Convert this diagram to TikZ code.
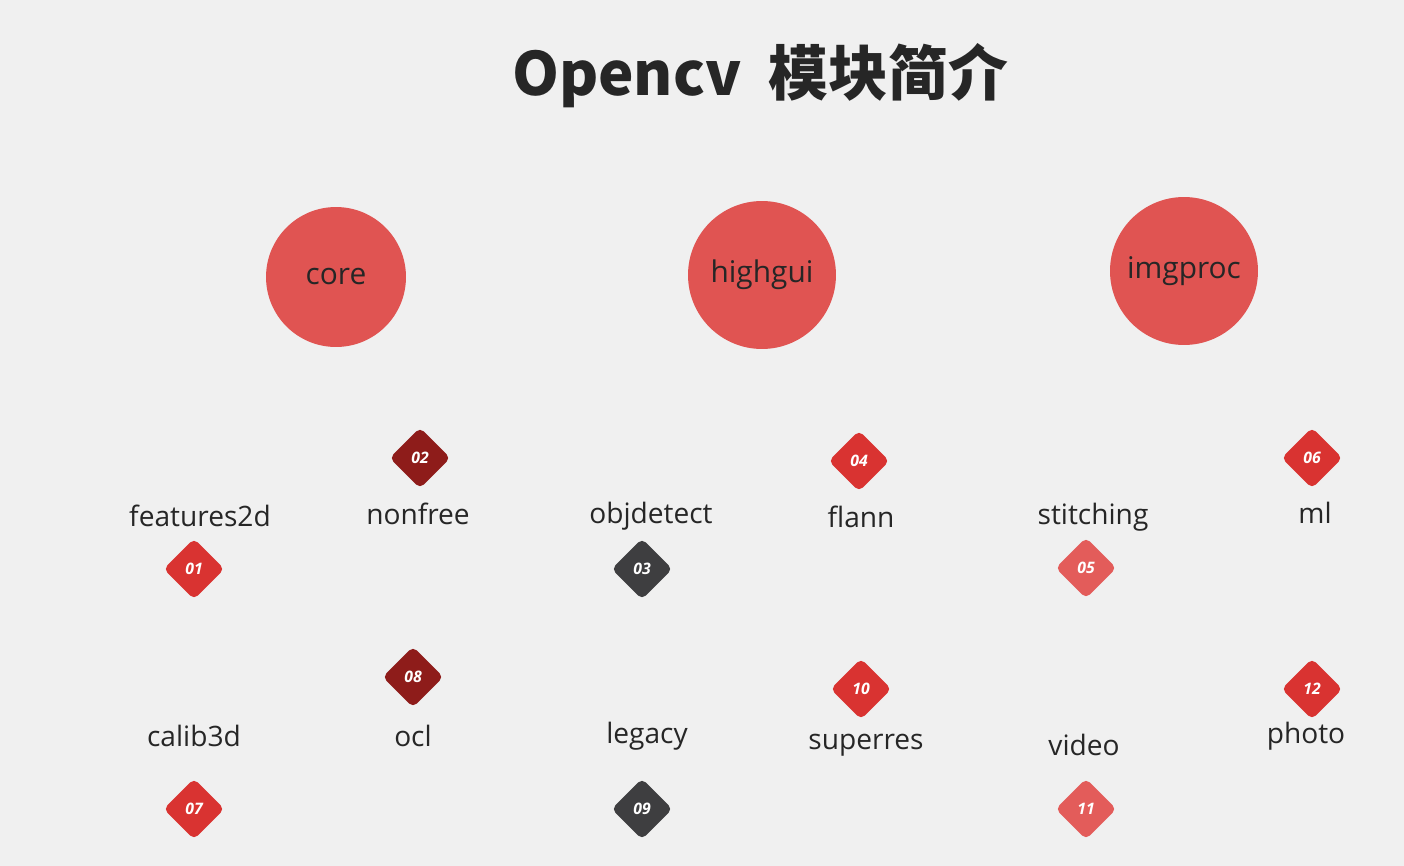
\documentclass[tikz,border=0pt]{standalone}
\usepackage{fontspec}
\setmainfont{Open Sans}
\newfontfamily\cjk{Noto Sans CJK SC}
\usetikzlibrary{shapes.geometric}
\definecolor{bg}{HTML}{F0F0F0}
\definecolor{circ}{HTML}{E05452}
\definecolor{dred}{HTML}{D93331}
\definecolor{ddark}{HTML}{8E1C1A}
\definecolor{dgray}{HTML}{3E3E40}
\definecolor{dlight}{HTML}{E35C5A}
\definecolor{txt}{HTML}{262626}
\tikzset{
 modc/.style={circle,fill=circ,inner sep=0pt,text=txt,font=\fontsize{17}{20}\selectfont},
 badge/.style={diamond,aspect=1,inner sep=0pt,minimum size=1.22cm,rounded corners=3pt,text=white,font=\itshape\bfseries\fontsize{9}{10}\selectfont},
 lab/.style={text=txt,font=\fontsize{16}{19}\selectfont}
}
\begin{document}
\begin{tikzpicture}[x=0.02cm,y=-0.02cm]
\fill[bg] (0,0) rectangle (1404,866);
\useasboundingbox (0,0) rectangle (1404,866);
\node[text=txt,font=\cjk\bfseries\fontsize{34}{40}\selectfont] (title) at (760,76) {Opencv\ \ 模块简介};
\node[modc,minimum size=2.8cm] (core) at (336,277) {core};
\node[modc,minimum size=2.96cm] (highgui) at (762,275) {highgui};
\node[modc,minimum size=2.96cm] (imgproc) at (1184,271) {imgproc};
\node[badge,fill=dred] (b01) at (194,569) {01};
\node[badge,fill=ddark] (b02) at (420,458) {02};
\node[badge,fill=dgray] (b03) at (642,569) {03};
\node[badge,fill=dred] (b04) at (859,461) {04};
\node[badge,fill=dlight] (b05) at (1086,568) {05};
\node[badge,fill=dred] (b06) at (1312,458) {06};
\node[badge,fill=dred] (b07) at (194,809) {07};
\node[badge,fill=ddark] (b08) at (413,677) {08};
\node[badge,fill=dgray] (b09) at (642,809) {09};
\node[badge,fill=dred] (b10) at (861,689) {10};
\node[badge,fill=dlight] (b11) at (1086,809) {11};
\node[badge,fill=dred] (b12) at (1312,689) {12};
\node[lab] (l1) at (200,516) {features2d};
\node[lab] (l2) at (418,514) {nonfree};
\node[lab] (l3) at (651,516) {objdetect};
\node[lab] (l4) at (861,517) {flann};
\node[lab] (l5) at (1093,517) {stitching};
\node[lab] (l6) at (1315,513) {ml};
\node[lab] (l7) at (194,736) {calib3d};
\node[lab] (l8) at (413,736) {ocl};
\node[lab] (l9) at (647,736) {legacy};
\node[lab] (l10) at (866,745) {superres};
\node[lab] (l11) at (1084,745) {video};
\node[lab] (l12) at (1306,736) {photo};
\end{tikzpicture}
\end{document}
